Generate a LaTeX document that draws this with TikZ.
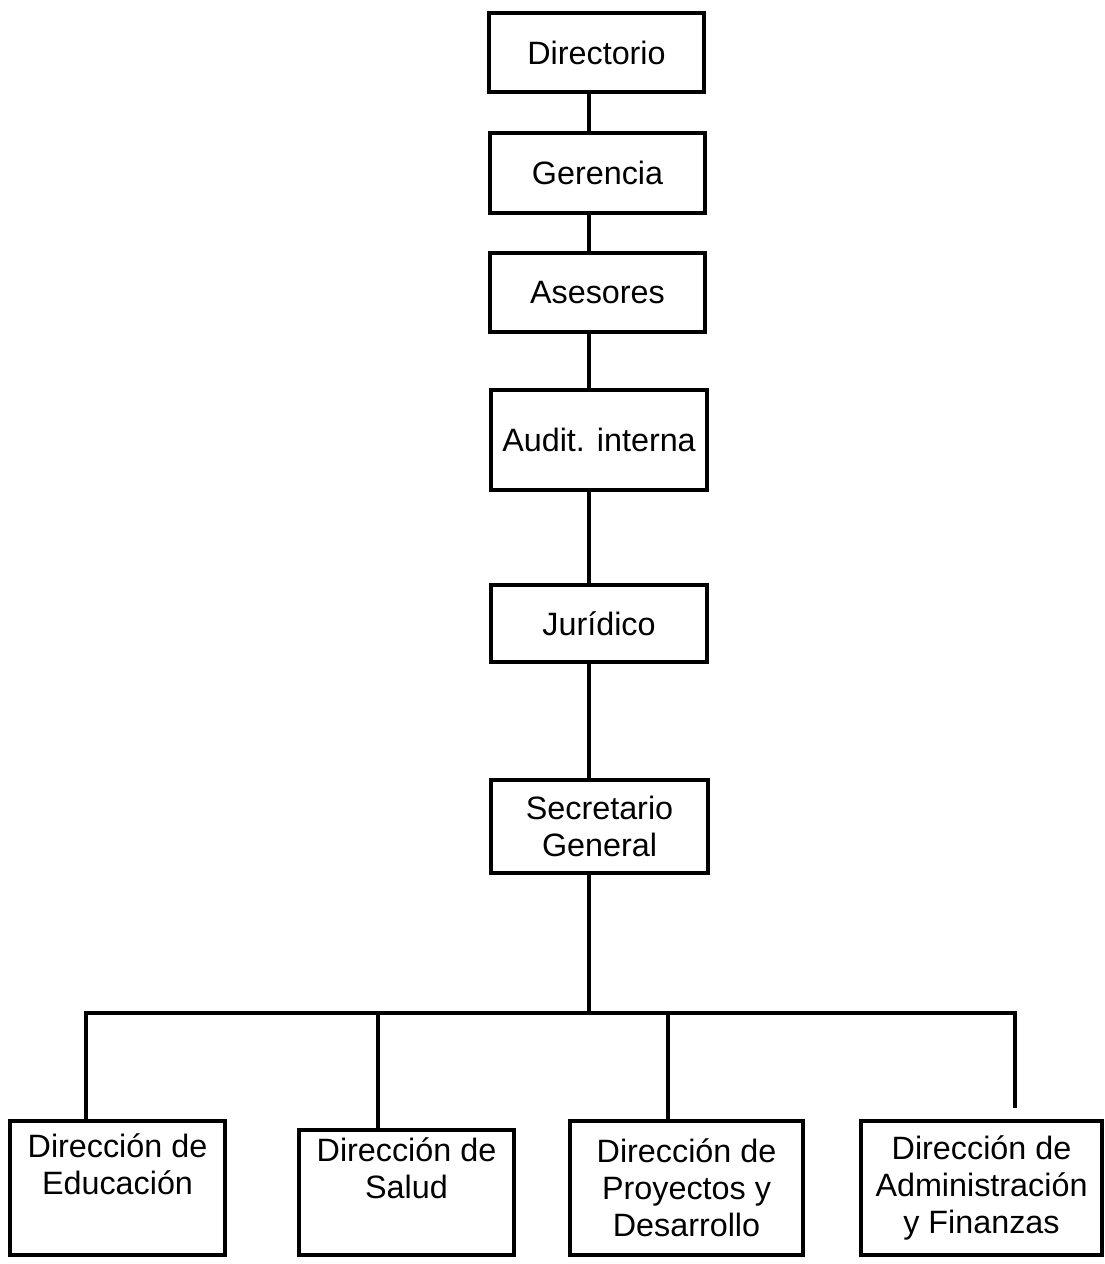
\documentclass[tikz,border=0pt]{standalone}
\usepackage{fontspec}
\setmainfont{Liberation Sans}
\begin{document}
\begin{tikzpicture}[x=0.02cm, y=-0.02cm,
    caja/.style={draw, line width=2.2pt, minimum width=4.3cm, inner sep=0pt,
      align=center, font=\fontsize{18.4}{21}\selectfont},
    conector/.style={line width=1.9pt}]
    \useasboundingbox (0,0) rectangle (1105,1264);

    % Cadena central
    \node[caja, minimum height=1.58cm] (dir) at (596.5,52.5) {Directorio};
    \node[caja, minimum height=1.6cm] (ger) at (597.5,173) {Gerencia};
    \node[caja, minimum height=1.58cm] (ase) at (597.5,292.5) {Asesores};
    \node[caja, minimum width=4.32cm, minimum height=2cm] (aud) at (599,440) {Audit. interna};
    \node[caja, minimum width=4.32cm, minimum height=1.54cm] (jur) at (599,623.5) {Jurídico};
    \node[caja, minimum width=4.34cm, minimum height=1.86cm] (sec) at (599.5,826.5) {Secretario\\General};

    % Direcciones
    \node[caja, minimum height=2.68cm] (edu) at (117.5,1188) {Dirección de\\Educación\\\strut};
    \node[caja, minimum height=2.5cm] (sal) at (406.5,1192.5) {Dirección de\\Salud\\\strut};
    \node[caja, minimum width=4.66cm, minimum height=2.68cm] (pro) at (686.5,1188) {Dirección de\\Proyectos y\\Desarrollo};
    \node[caja, minimum width=4.82cm, minimum height=2.68cm] (adm) at (981.5,1188) {Dirección de\\Administración\\y Finanzas};

    % Puntos de la barra
    \coordinate (eje) at (589,1013);
    \coordinate (bEdu) at (86,1013);
    \coordinate (bSal) at (378,1013);
    \coordinate (bPro) at (668,1013);
    \coordinate (bAdm) at (1015,1013);

    % Conectores
    \draw[conector] (dir.south -| eje) -- (ger.north -| eje);
    \draw[conector] (ger.south -| eje) -- (ase.north -| eje);
    \draw[conector] (ase.south -| eje) -- (aud.north -| eje);
    \draw[conector] (aud.south -| eje) -- (jur.north -| eje);
    \draw[conector] (jur.south -| eje) -- (sec.north -| eje);
    \draw[conector] (sec.south -| eje) -- (eje);
    \draw[conector, shorten >=0.22cm] (edu.north -| bEdu) -- (bEdu) -- (bAdm) -- (adm.north -| bAdm);
    \draw[conector] (sal.north -| bSal) -- (bSal);
    \draw[conector] (pro.north -| bPro) -- (bPro);
\end{tikzpicture}
\end{document}
